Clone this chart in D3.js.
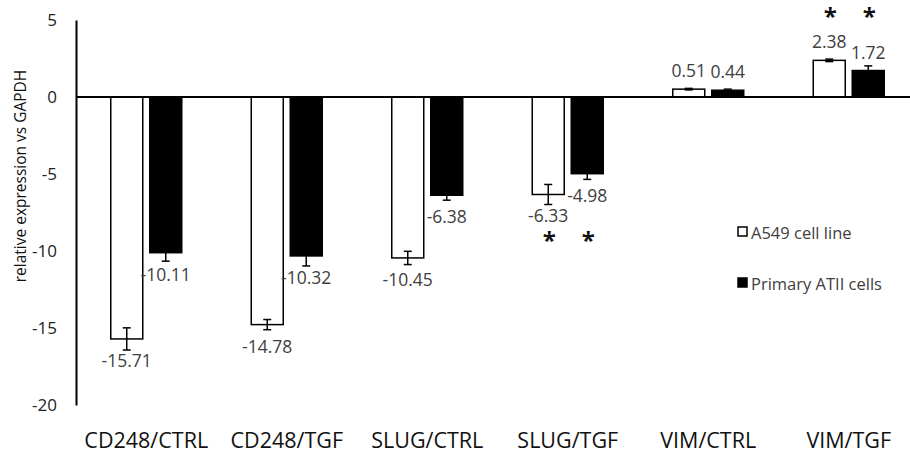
<!DOCTYPE html>
<html>
<head>
<meta charset="utf-8">
<script src="https://cdn.jsdelivr.net/npm/d3@7"></script>
<style>
  html, body { margin: 0; padding: 0; background: #fff; }
  svg { display: block; }
  text { font-family: "Open Sans", Lato, sans-serif; }
</style>
</head>
<body>
<svg id="chart" width="910" height="452"></svg>
<script>
const categories = ["CD248/CTRL", "CD248/TGF", "SLUG/CTRL", "SLUG/TGF", "VIM/CTRL", "VIM/TGF"];
const seriesNames = ["A549 cell line", "Primary ATII cells"];
const a549Values = [-15.71, -14.78, -10.45, -6.33, 0.51, 2.38];
const primaryValues = [-10.11, -10.32, -6.38, -4.98, 0.44, 1.72];
const a549Errors = [0.72, 0.33, 0.43, 0.65, 0.05, 0.08];
const primaryErrors = [0.55, 0.65, 0.32, 0.37, 0.07, 0.30];
const significant = [
  { category: "SLUG/TGF", series: "A549 cell line" },
  { category: "SLUG/TGF", series: "Primary ATII cells" },
  { category: "VIM/TGF", series: "A549 cell line" },
  { category: "VIM/TGF", series: "Primary ATII cells" }
];
const yTicks = [5, 0, -5, -10, -15, -20];

const svg = d3.select("#chart");
const fills = { "A549 cell line": "#ffffff", "Primary ATII cells": "#000000" };
const hyphen = s => s.replace("\u2212", "-");

const x = d3.scaleBand().domain(categories).range([76, 919]).padding(0);
const xs = d3.scaleBand().domain(seriesNames).range([-35.5, 35.5]).paddingInner(0.1795);
const y = d3.scaleLinear().domain([-20, 5]).range([405, 20]);

const rows = [];
categories.forEach((c, i) => {
  rows.push({ category: c, series: seriesNames[0], value: a549Values[i], err: a549Errors[i] });
  rows.push({ category: c, series: seriesNames[1], value: primaryValues[i], err: primaryErrors[i] });
});
const cx = d => x(d.category) + x.bandwidth() / 2 + xs(d.series) + xs.bandwidth() / 2;

// bars
svg.append("g").selectAll("rect").data(rows).join("rect")
  .attr("x", d => x(d.category) + x.bandwidth() / 2 + xs(d.series))
  .attr("y", d => Math.min(y(d.value), y(0)))
  .attr("width", xs.bandwidth())
  .attr("height", d => Math.abs(y(d.value) - y(0)))
  .attr("fill", d => fills[d.series])
  .attr("stroke", "#000")
  .attr("stroke-width", 1.5);

// error bars
const eg = svg.append("g").attr("stroke", "#000").attr("stroke-width", 1.5);
rows.forEach(d => {
  const lo = y(d.value - d.err), hi = y(d.value + d.err), xc = cx(d);
  eg.append("line").attr("x1", xc).attr("x2", xc).attr("y1", lo).attr("y2", hi);
  eg.append("line").attr("x1", xc - 4).attr("x2", xc + 4).attr("y1", lo).attr("y2", lo);
  eg.append("line").attr("x1", xc - 4).attr("x2", xc + 4).attr("y1", hi).attr("y2", hi);
});

// zero line
svg.append("line")
  .attr("x1", x.range()[0]).attr("x2", 910)
  .attr("y1", y(0)).attr("y2", y(0))
  .attr("stroke", "#000").attr("stroke-width", 2);

// y axis
const yAxis = svg.append("g")
  .attr("transform", `translate(${x.range()[0]},0)`)
  .call(d3.axisLeft(y).tickValues(yTicks).tickSize(0).tickPadding(19)
    .tickFormat(d => hyphen(d3.format("d")(d))));
yAxis.select(".domain").attr("stroke", "#000").attr("stroke-width", 2);
yAxis.selectAll("text").attr("font-size", 17).attr("fill", "#222")
  .attr("font-family", "'Open Sans', Lato, sans-serif");

// x labels
svg.append("g").selectAll("text").data(categories).join("text")
  .attr("x", d => x(d) + x.bandwidth() / 2)
  .attr("y", 439)
  .attr("text-anchor", "middle")
  .attr("dominant-baseline", "central")
  .attr("font-size", 21.5)
  .attr("fill", "#111")
  .text(d => d);

// data labels
const labelY = d => d.value < 0 ? y(d.value) + 21 : y(d.value) - 19;
svg.append("g").selectAll("text").data(rows).join("text")
  .attr("x", d => cx(d))
  .attr("y", d => labelY(d))
  .attr("text-anchor", "middle")
  .attr("dominant-baseline", "central")
  .attr("font-size", 17.5)
  .attr("fill", "#404040")
  .text(d => hyphen(d3.format(".2f")(d.value)));

// asterisks
svg.append("g").selectAll("text").data(significant).join("text")
  .attr("x", s => {
    const d = rows.find(r => r.category === s.category && r.series === s.series);
    return cx(d) + 1;
  })
  .attr("y", s => {
    const grp = rows.filter(r => r.category === s.category);
    if (grp[0].value < 0) return d3.max(grp, labelY) + 34;
    return d3.min(grp, labelY) - 16;
  })
  .attr("text-anchor", "middle")
  .attr("font-size", 24)
  .attr("font-weight", "bold")
  .attr("fill", "#111")
  .text("*");

// y axis title
svg.append("text")
  .attr("transform", "translate(20,176) rotate(-90)")
  .attr("text-anchor", "middle")
  .attr("dominant-baseline", "central")
  .attr("font-size", 15.5)
  .attr("fill", "#111")
  .text("relative expression vs GAPDH");

// legend
const lg = svg.append("g");
seriesNames.forEach((s, i) => {
  const ly = 232 + i * 51;
  lg.append("rect").attr("x", 738).attr("y", ly - 5).attr("width", 9).attr("height", 9)
    .attr("fill", fills[s]).attr("stroke", "#000").attr("stroke-width", 1.5);
  lg.append("text").attr("x", 751).attr("y", ly)
    .attr("dominant-baseline", "central")
    .attr("font-size", 16.5).attr("fill", "#404040").text(s);
});
</script>
</body>
</html>
